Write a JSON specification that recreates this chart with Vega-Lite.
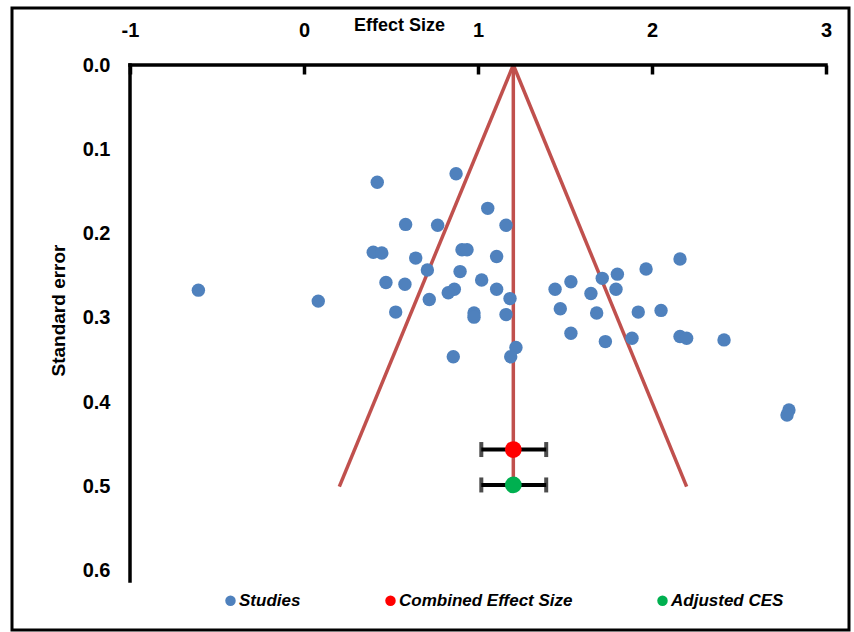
{
  "$schema": "https://vega.github.io/schema/vega-lite/v6.json",
  "width": 837,
  "height": 622,
  "autosize": {"type": "none"},
  "padding": {"left": 12, "top": 8, "right": 5, "bottom": 2},
  "background": "white",
  "config": {
    "view": {"stroke": "black", "strokeWidth": 3},
    "axis": {"grid": false}
  },
  "datasets": {
    "studies": [
      {"es": -0.607, "se": 0.267, "series": "Studies"},
      {"es": 0.082, "se": 0.280, "series": "Studies"},
      {"es": 0.421, "se": 0.139, "series": "Studies"},
      {"es": 0.874, "se": 0.129, "series": "Studies"},
      {"es": 1.056, "se": 0.170, "series": "Studies"},
      {"es": 0.584, "se": 0.189, "series": "Studies"},
      {"es": 0.768, "se": 0.190, "series": "Studies"},
      {"es": 1.161, "se": 0.190, "series": "Studies"},
      {"es": 0.398, "se": 0.222, "series": "Studies"},
      {"es": 0.447, "se": 0.223, "series": "Studies"},
      {"es": 0.642, "se": 0.229, "series": "Studies"},
      {"es": 0.908, "se": 0.219, "series": "Studies"},
      {"es": 0.937, "se": 0.219, "series": "Studies"},
      {"es": 1.107, "se": 0.227, "series": "Studies"},
      {"es": 0.709, "se": 0.243, "series": "Studies"},
      {"es": 0.897, "se": 0.245, "series": "Studies"},
      {"es": 0.471, "se": 0.258, "series": "Studies"},
      {"es": 0.580, "se": 0.260, "series": "Studies"},
      {"es": 1.021, "se": 0.255, "series": "Studies"},
      {"es": 1.107, "se": 0.266, "series": "Studies"},
      {"es": 0.864, "se": 0.266, "series": "Studies"},
      {"es": 0.829, "se": 0.270, "series": "Studies"},
      {"es": 0.720, "se": 0.278, "series": "Studies"},
      {"es": 1.184, "se": 0.277, "series": "Studies"},
      {"es": 0.527, "se": 0.293, "series": "Studies"},
      {"es": 0.977, "se": 0.294, "series": "Studies"},
      {"es": 0.977, "se": 0.299, "series": "Studies"},
      {"es": 1.161, "se": 0.296, "series": "Studies"},
      {"es": 0.858, "se": 0.346, "series": "Studies"},
      {"es": 1.218, "se": 0.335, "series": "Studies"},
      {"es": 1.188, "se": 0.346, "series": "Studies"},
      {"es": 1.443, "se": 0.266, "series": "Studies"},
      {"es": 1.534, "se": 0.257, "series": "Studies"},
      {"es": 1.473, "se": 0.289, "series": "Studies"},
      {"es": 1.534, "se": 0.318, "series": "Studies"},
      {"es": 1.649, "se": 0.271, "series": "Studies"},
      {"es": 1.714, "se": 0.253, "series": "Studies"},
      {"es": 1.801, "se": 0.248, "series": "Studies"},
      {"es": 1.793, "se": 0.266, "series": "Studies"},
      {"es": 1.682, "se": 0.294, "series": "Studies"},
      {"es": 1.732, "se": 0.328, "series": "Studies"},
      {"es": 1.885, "se": 0.324, "series": "Studies"},
      {"es": 1.966, "se": 0.242, "series": "Studies"},
      {"es": 1.921, "se": 0.293, "series": "Studies"},
      {"es": 2.052, "se": 0.291, "series": "Studies"},
      {"es": 2.161, "se": 0.230, "series": "Studies"},
      {"es": 2.161, "se": 0.322, "series": "Studies"},
      {"es": 2.199, "se": 0.324, "series": "Studies"},
      {"es": 2.414, "se": 0.326, "series": "Studies"},
      {"es": 2.787, "se": 0.409, "series": "Studies"},
      {"es": 2.776, "se": 0.415, "series": "Studies"}
    ],
    "summary": [
      {"es": 1.203, "se": 0.456, "lo": 1.019, "hi": 1.392, "series": "Combined Effect Size"},
      {"es": 1.203, "se": 0.498, "lo": 1.019, "hi": 1.392, "series": "Adjusted CES"}
    ],
    "funnel": [
      {"side": "left", "es": 1.203, "se": 0.0},
      {"side": "left", "es": 0.203, "se": 0.5},
      {"side": "right", "es": 1.203, "se": 0.0},
      {"side": "right", "es": 2.199, "se": 0.5},
      {"side": "center", "es": 1.203, "se": 0.0},
      {"side": "center", "es": 1.203, "se": 0.5}
    ]
  },
  "layer": [
    {
      "data": {"name": "funnel"},
      "mark": {"type": "line", "color": "#C0504D", "strokeWidth": 3.5},
      "encoding": {
        "x": {
          "field": "es",
          "type": "quantitative",
          "scale": {"domain": [-1.6782, 3.1322], "nice": false, "zero": false},
          "axis": {
            "orient": "top",
            "offset": -57,
            "values": [-1, 0, 1, 2, 3],
            "labelExpr": "'' + datum.value",
            "domain": false,
            "ticks": true,
            "tickSize": -9,
            "tickWidth": 3.5,
            "tickColor": "black",
            "labelPadding": 44,
            "labelBaseline": "middle",
            "labelFlush": false,
            "labelFont": "Liberation Sans",
            "labelFontWeight": "bold",
            "labelFontSize": 20,
            "labelColor": "black",
            "title": "Effect Size",
            "titleFont": "Liberation Sans",
            "titleFontWeight": "bold",
            "titleFontSize": 18,
            "titleColor": "black",
            "titleX": 387,
            "titleY": -40,
            "titleAlign": "center",
            "titleBaseline": "middle"
          }
        },
        "y": {
          "field": "se",
          "type": "quantitative",
          "scale": {"domain": [-0.0676, 0.67], "nice": false, "zero": false, "reverse": true},
          "axis": {
            "orient": "left",
            "offset": -119,
            "values": [0, 0.1, 0.2, 0.3, 0.4, 0.5, 0.6],
            "format": ".1f",
            "domain": false,
            "ticks": false,
            "labelPadding": 21,
            "labelFlush": false,
            "labelFont": "Liberation Sans",
            "labelFontWeight": "bold",
            "labelFontSize": 20,
            "labelColor": "black",
            "title": "Standard error",
            "titleFont": "Liberation Sans",
            "titleFontWeight": "bold",
            "titleFontSize": 19,
            "titleColor": "black",
            "titleX": -73,
            "titleY": 302,
            "titleAngle": -90,
            "titleAlign": "center",
            "titleBaseline": "middle"
          }
        },
        "detail": {"field": "side", "type": "nominal"},
        "order": {"field": "se", "type": "quantitative"}
      }
    },
    {
      "data": {"values": [{"k": 1}]},
      "mark": {"type": "rule", "color": "black", "strokeWidth": 3.5, "strokeCap": "square"},
      "encoding": {
        "x": {"datum": -1, "type": "quantitative"},
        "x2": {"datum": 3},
        "y": {"datum": 0, "type": "quantitative"}
      }
    },
    {
      "data": {"values": [{"k": 1}]},
      "mark": {"type": "rule", "color": "black", "strokeWidth": 3.5, "strokeCap": "square"},
      "encoding": {
        "x": {"datum": -1, "type": "quantitative"},
        "y": {"datum": 0, "type": "quantitative"},
        "y2": {"datum": 0.612}
      }
    },
    {
      "data": {"name": "studies"},
      "mark": {"type": "point", "filled": true, "opacity": 1, "size": 180, "shape": "circle"},
      "encoding": {
        "x": {"field": "es", "type": "quantitative"},
        "y": {"field": "se", "type": "quantitative"},
        "color": {
          "field": "series",
          "type": "nominal",
          "scale": {"domain": ["Studies", "Combined Effect Size", "Adjusted CES"], "range": ["#4F81BD", "#FF0000", "#00B050"]},
          "legend": {
            "title": null,
            "orient": "none",
            "legendX": 210,
            "legendY": 584,
            "direction": "horizontal",
            "symbolType": "circle",
            "symbolSize": 110,
            "symbolOpacity": 1,
            "labelFont": "Liberation Sans",
            "labelFontStyle": "italic",
            "labelFontWeight": "bold",
            "labelFontSize": 17,
            "labelColor": "black",
            "labelOffset": 0,
            "labelLimit": 400,
            "columnPadding": 81,
            "padding": 0
          }
        }
      }
    },
    {
      "data": {"name": "summary"},
      "mark": {"type": "rule", "color": "black", "strokeWidth": 4},
      "encoding": {
        "x": {"field": "lo", "type": "quantitative"},
        "x2": {"field": "hi"},
        "y": {"field": "se", "type": "quantitative"}
      }
    },
    {
      "data": {"name": "summary"},
      "mark": {"type": "tick", "orient": "vertical", "color": "black", "thickness": 4, "size": 15},
      "encoding": {
        "x": {"field": "lo", "type": "quantitative"},
        "y": {"field": "se", "type": "quantitative"}
      }
    },
    {
      "data": {"name": "summary"},
      "mark": {"type": "tick", "orient": "vertical", "color": "black", "thickness": 4, "size": 15},
      "encoding": {
        "x": {"field": "hi", "type": "quantitative"},
        "y": {"field": "se", "type": "quantitative"}
      }
    },
    {
      "data": {"name": "summary"},
      "mark": {"type": "point", "filled": true, "opacity": 1, "size": 280, "shape": "circle"},
      "encoding": {
        "x": {"field": "es", "type": "quantitative"},
        "y": {"field": "se", "type": "quantitative"},
        "color": {
          "field": "series",
          "type": "nominal"
        }
      }
    }
  ]
}
